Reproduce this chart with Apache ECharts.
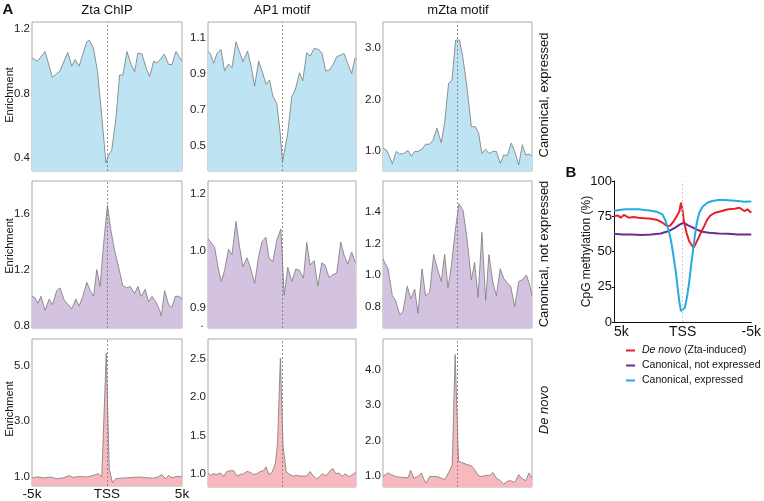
<!DOCTYPE html>
<html><head><meta charset="utf-8">
<script src="https://cdn.jsdelivr.net/npm/echarts@6/dist/echarts.min.js"></script>
<style>html,body{margin:0;padding:0;background:#fff}#c{width:764px;height:501px}</style>
</head><body><div id="c"></div>
<script>
// ---------- labels ----------
const colTitles = ['Zta ChIP', 'AP1 motif', 'mZta motif'];
const rowTitles = ['Canonical, expressed', 'Canonical, not expressed', 'De novo'];
const xTicks = [-5, 0, 5];
const xTickLabels = ['-5k', 'TSS', '5k'];

// ---------- panel A data: [position (kb), enrichment] ----------
const ztaExpressed = [[-5.0,1.02],[-4.64,1.00],[-4.13,1.06],[-3.64,0.90],[-3.40,0.92],[-3.13,0.94],[-2.62,1.055],[-2.35,0.97],[-2.13,1.01],[-1.86,0.97],[-1.35,1.12],[-1.17,1.13],[-0.90,1.08],[-0.63,0.935],[-0.35,0.66],[-0.07,0.37],[0.10,0.42],[0.32,0.45],[0.61,0.66],[0.84,0.915],[1.06,0.915],[1.33,1.06],[1.61,0.98],[1.84,0.935],[2.06,1.05],[2.33,1.045],[2.62,0.955],[2.84,0.905],[3.11,1.00],[3.33,0.99],[3.55,1.01],[3.82,1.045],[4.11,0.98],[4.33,0.98],[4.60,1.06],[5.0,1.00]];
const ap1Expressed = [[-5.0,1.022],[-4.84,1.013],[-4.62,0.958],[-4.39,1.013],[-4.12,1.035],[-3.88,0.917],[-3.61,0.954],[-3.38,0.934],[-3.11,1.078],[-2.87,1.022],[-2.64,0.967],[-2.33,1.026],[-2.08,0.94],[-1.85,0.832],[-1.58,0.971],[-1.31,0.906],[-1.07,0.842],[-0.84,0.866],[-0.62,0.777],[-0.35,0.736],[-0.12,0.57],[0.03,0.413],[0.37,0.561],[0.66,0.773],[0.89,0.81],[1.18,0.906],[1.40,0.862],[1.67,1.017],[1.90,0.998],[2.17,1.041],[2.46,1.035],[2.69,1.017],[2.96,0.915],[3.20,0.921],[3.47,0.954],[3.70,0.995],[3.97,1.004],[4.19,1.013],[4.48,0.949],[4.71,0.902],[4.93,0.986],[5.0,0.98]];
const mztaExpressed = [[-5.0,1.05],[-4.78,1.02],[-4.60,0.92],[-4.37,0.75],[-4.11,0.99],[-3.88,0.94],[-3.61,0.95],[-3.32,1.01],[-3.10,0.90],[-2.87,0.99],[-2.65,0.99],[-2.36,1.04],[-2.14,1.13],[-1.87,1.13],[-1.64,1.21],[-1.38,1.44],[-1.09,1.16],[-0.86,1.55],[-0.60,2.31],[-0.37,2.37],[-0.13,3.15],[0.13,3.15],[0.35,2.83],[0.64,2.23],[0.93,1.47],[1.20,1.47],[1.42,1.34],[1.64,0.95],[1.87,1.03],[2.11,0.95],[2.38,0.99],[2.61,0.99],[2.87,0.76],[3.10,0.92],[3.34,0.91],[3.61,1.15],[3.84,0.99],[4.11,0.73],[4.35,1.12],[4.58,0.92],[4.80,0.94],[5.0,0.90]];
const ztaNotExpressed = [[-5.0,1.01],[-4.80,1.00],[-4.62,0.96],[-4.40,1.01],[-4.13,0.91],[-3.86,0.99],[-3.64,0.95],[-3.35,1.05],[-3.13,1.07],[-2.84,0.98],[-2.57,0.95],[-2.35,0.92],[-2.08,0.99],[-1.86,0.94],[-1.61,1.01],[-1.35,1.11],[-1.12,1.05],[-0.90,1.01],[-0.68,1.20],[-0.46,1.08],[-0.23,1.38],[0.03,1.66],[0.26,1.48],[0.48,1.35],[0.77,1.22],[1.04,1.09],[1.28,1.07],[1.55,1.08],[1.84,1.03],[2.06,1.08],[2.28,1.01],[2.55,1.06],[2.77,0.97],[3.00,1.01],[3.26,0.97],[3.51,0.91],[3.62,0.87],[3.84,1.05],[4.11,0.95],[4.33,0.93],[4.55,1.01],[4.82,1.01],[5.0,0.99]];
const ap1NotExpressed = [[-5.0,1.022],[-4.78,1.014],[-4.55,1.006],[-4.33,0.972],[-4.10,0.946],[-3.88,0.966],[-3.61,1.003],[-3.38,0.993],[-3.11,1.052],[-2.87,1.008],[-2.64,0.972],[-2.37,0.988],[-2.15,0.972],[-1.85,0.943],[-1.58,0.99],[-1.36,1.016],[-1.09,1.024],[-0.87,0.987],[-0.62,0.981],[-0.35,1.019],[-0.08,1.039],[0.15,0.922],[0.39,0.971],[0.66,0.946],[0.93,0.968],[1.18,0.966],[1.45,0.952],[1.67,1.015],[1.90,0.975],[2.17,0.983],[2.42,0.938],[2.69,0.979],[2.91,0.975],[3.18,0.953],[3.43,0.958],[3.70,0.961],[3.97,1.016],[4.19,0.993],[4.44,0.977],[4.71,0.998],[4.93,0.981],[5.0,0.979]];
const mztaNotExpressed = [[-5.0,1.10],[-4.89,1.11],[-4.66,1.04],[-4.37,0.87],[-4.15,0.84],[-3.88,0.75],[-3.66,0.77],[-3.37,0.93],[-3.14,0.85],[-2.87,0.91],[-2.65,0.76],[-2.38,1.04],[-2.14,0.87],[-1.87,0.89],[-1.60,1.13],[-1.35,1.04],[-1.09,0.96],[-0.86,1.13],[-0.64,0.92],[-0.41,1.06],[-0.15,1.28],[0.10,1.45],[0.37,1.41],[0.64,1.23],[0.93,0.97],[1.15,1.08],[1.38,0.86],[1.64,1.27],[1.89,0.84],[2.11,1.13],[2.38,0.95],[2.61,0.87],[2.87,1.04],[3.10,0.98],[3.34,0.95],[3.57,0.93],[3.84,0.80],[4.11,0.96],[4.35,0.97],[4.62,1.00],[4.84,0.94],[5.0,0.87]];
const ztaDeNovo = [[-5.0,0.95],[-4.69,1.00],[-4.24,0.96],[-3.80,0.99],[-3.35,0.93],[-2.91,0.96],[-2.57,1.04],[-2.24,0.98],[-1.79,1.01],[-1.35,0.99],[-0.90,1.05],[-0.57,1.11],[-0.35,0.99],[-0.05,5.44],[0.15,1.28],[0.36,0.79],[0.59,0.93],[0.92,0.95],[1.37,0.96],[1.81,0.98],[2.22,0.99],[2.66,0.96],[3.11,0.95],[3.44,1.00],[3.66,1.08],[3.89,0.93],[4.11,1.05],[4.33,0.96],[4.67,1.02],[5.0,0.99]];
const ap1DeNovo = [[-5.0,1.01],[-4.84,0.98],[-4.62,1.00],[-4.39,0.99],[-4.17,1.01],[-3.94,0.97],[-3.72,1.03],[-3.49,1.04],[-3.27,1.04],[-3.04,0.97],[-2.82,0.99],[-2.60,1.00],[-2.37,1.03],[-2.15,1.02],[-1.92,0.99],[-1.70,1.00],[-1.47,1.03],[-1.25,1.04],[-1.07,1.09],[-0.89,0.99],[-0.66,1.02],[-0.44,1.14],[-0.30,1.40],[-0.11,2.51],[0.07,1.36],[0.28,1.03],[0.51,0.99],[0.78,0.97],[1.00,0.98],[1.22,0.97],[1.45,0.97],[1.67,0.97],[1.90,1.03],[2.12,0.97],[2.35,0.93],[2.57,0.97],[2.75,1.00],[2.96,0.97],[3.20,1.03],[3.43,1.07],[3.63,1.00],[3.85,1.01],[4.08,0.97],[4.30,1.00],[4.53,0.96],[4.78,0.99],[5.0,1.02]];
const mztaDeNovo = [[-5.0,0.98],[-4.89,1.00],[-4.66,1.08],[-4.44,1.03],[-4.15,0.98],[-3.88,0.96],[-3.61,0.95],[-3.32,0.94],[-3.14,1.15],[-2.92,0.93],[-2.65,0.98],[-2.43,1.08],[-2.27,0.91],[-2.09,0.79],[-1.87,0.98],[-1.60,0.98],[-1.38,0.98],[-1.09,0.93],[-0.86,0.89],[-0.60,1.08],[-0.35,1.31],[-0.16,4.44],[0.07,1.41],[0.27,1.38],[0.56,1.33],[0.93,1.28],[1.15,1.17],[1.42,1.00],[1.64,0.98],[1.94,1.01],[2.16,1.01],[2.38,1.09],[2.61,0.93],[2.87,0.86],[3.10,0.76],[3.32,0.84],[3.57,0.86],[3.84,0.81],[4.11,1.03],[4.35,0.91],[4.58,0.86],[4.80,1.08],[5.0,0.93]];

// y ranges and ticks per panel (row-major)
const panelData = [ztaExpressed, ap1Expressed, mztaExpressed, ztaNotExpressed, ap1NotExpressed, mztaNotExpressed, ztaDeNovo, ap1DeNovo, mztaDeNovo];
const yMins = [0.32, 0.362, 0.61, 0.784, 0.864, 0.666, 0.667, 0.827, 0.68];
const yMaxs = [1.243, 1.187, 3.50, 1.832, 1.1235, 1.594, 5.95, 2.76, 4.88];
const yTickValues = [[0.4,0.8,1.2],[0.5,0.7,0.9,1.1],[1,2,3],[0.8,1.2,1.6],[0.9,1.0,1.1],[0.8,1.0,1.2,1.4],[1,3,5],[1,1.5,2,2.5],[1,2,3,4]];
const yTickLabels = [['0.4','0.8','1.2'],['0.5','0.7','0.9','1.1'],['1.0','2.0','3.0'],['0.8','1.2','1.6'],['0.9','1.0','1.2'],['0.8','1.0','1.2','1.4'],['1.0','3.0','5.0'],['1.0','1.5','2.0','2.5'],['1.0','2.0','3.0','4.0']];

// ---------- panel B data: [position (kb), CpG methylation %] ----------
const bNames = ['De novo (Zta-induced)', 'Canonical, not expressed', 'Canonical, expressed'];
const methDeNovo = [[5.0,75.1],[4.74,75.6],[4.51,74.0],[4.28,75.9],[3.93,74.0],[3.57,74.4],[3.22,74.0],[2.76,73.5],[2.29,73.2],[1.82,72.3],[1.47,70.4],[1.12,68.0],[0.89,68.5],[0.65,71.6],[0.42,75.1],[0.23,78.7],[0.12,84.6],[0.02,79.9],[-0.09,71.6],[-0.28,63.3],[-0.47,57.4],[-0.63,55.0],[-0.79,52.7],[-0.93,55.0],[-1.10,58.6],[-1.33,63.3],[-1.57,68.0],[-1.80,72.8],[-2.03,75.6],[-2.38,77.5],[-2.85,78.7],[-3.32,79.9],[-3.79,80.3],[-4.14,81.0],[-4.49,78.7],[-4.72,79.9],[-5.0,77.5]];
const methNotExpressed = [[5.0,62.6],[4.39,62.1],[3.69,62.1],[2.99,61.7],[2.29,62.1],[1.59,62.8],[1.0,64.5],[0.54,66.9],[0.19,69.2],[-0.09,70.4],[-0.40,68.5],[-0.75,66.9],[-1.10,65.2],[-1.45,64.0],[-1.92,63.3],[-2.62,62.8],[-3.32,62.6],[-4.02,62.1],[-5.0,62.1]];
const methExpressed = [[5.0,78.7],[4.63,79.4],[4.16,79.9],[3.69,79.9],[3.22,79.9],[2.76,79.4],[2.29,78.9],[1.82,78.0],[1.47,76.3],[1.24,71.6],[1.0,64.5],[0.82,56.2],[0.65,45.6],[0.49,35.0],[0.35,23.1],[0.23,13.7],[0.12,7.8],[0.0,7.8],[-0.16,10.1],[-0.33,18.4],[-0.47,27.8],[-0.61,39.7],[-0.75,50.3],[-0.89,61.0],[-1.03,70.4],[-1.21,77.5],[-1.45,81.8],[-1.80,84.6],[-2.15,85.8],[-2.62,86.5],[-3.08,86.5],[-3.55,86.2],[-4.02,85.8],[-4.49,85.3],[-5.0,85.5]];

// ---------- build ----------
const FONT = 'Liberation Sans, Arial, sans-serif';
const fills = ['#bee3f3', '#d3c3e0', '#f8b9be'];
const gridLefts = [32, 208, 383], gridWidths = [150, 148, 149];
const gridTops = [22, 181, 339], gridHeights = [149, 147, 148];

const grids = [], xAxes = [], yAxes = [], series = [];
for (let r = 0; r < 3; r++) {
  for (let c = 0; c < 3; c++) {
    const i = r * 3 + c;
    grids.push({left: gridLefts[c], top: gridTops[r], width: gridWidths[c], height: gridHeights[r],
      show: true, borderColor: '#a9a9a9', borderWidth: 1, backgroundColor: 'transparent'});
    const showX = (r === 2 && c === 0);
    xAxes.push({type: 'value', gridIndex: i, min: -5, max: 5, interval: 5,
      axisLine: {show: false}, axisTick: {show: false}, splitLine: {show: false},
      axisLabel: {show: showX, margin: 1, fontSize: 13.5, color: '#111', fontFamily: FONT,
        formatter: v => xTickLabels[xTicks.indexOf(v)] || ''}});
    const tv = yTickValues[i], tl = yTickLabels[i];
    yAxes.push({type: 'value', gridIndex: i, min: yMins[i], max: yMaxs[i],
      axisLine: {show: false}, axisTick: {show: false}, splitLine: {show: false},
      axisLabel: {show: true, margin: 2, fontSize: 11.5, color: '#222', fontFamily: FONT,
        customValues: tv,
        formatter: v => { let k = tv.findIndex(t => Math.abs(t - v) < 1e-6); return k >= 0 ? tl[k] : ''; }}});
    series.push({type: 'line', name: 'p' + i, xAxisIndex: i, yAxisIndex: i, data: panelData[i],
      showSymbol: false, symbol: 'none', animation: false,
      lineStyle: {color: '#787878', width: 0.8},
      areaStyle: {color: fills[r], opacity: 1, origin: 'start'},
      markLine: {silent: true, symbol: 'none', animation: false, label: {show: false},
        lineStyle: {color: '#777', type: [2, 2], width: 0.8},
        data: [{xAxis: 0}]}});
  }
}
// Panel B
grids.push({left: 614, top: 181, width: 142, height: 141, show: false});
xAxes.push({type: 'value', gridIndex: 9, min: -5, max: 5, interval: 5, inverse: true,
  axisLine: {show: true, onZero: false, lineStyle: {color: '#111', width: 1}}, axisTick: {show: false}, splitLine: {show: false},
  axisLabel: {margin: 3, fontSize: 14, color: '#111', fontFamily: FONT, alignMaxLabel: 'left',
    formatter: v => xTickLabels[xTicks.indexOf(v)] || ''}});
yAxes.push({type: 'value', gridIndex: 9, min: 0, max: 100, interval: 25,
  name: 'CpG methylation (%)', nameLocation: 'middle', nameGap: 21, nameMoveOverlap: false,
  nameTextStyle: {fontSize: 12, color: '#111', fontFamily: FONT},
  axisLine: {show: true, onZero: false, lineStyle: {color: '#111', width: 1}},
  axisTick: {show: true, length: 2, lineStyle: {color: '#111'}}, splitLine: {show: false},
  axisLabel: {margin: 2, fontSize: 13, color: '#111', fontFamily: FONT}});
const bColors = {'De novo (Zta-induced)': '#e8202a', 'Canonical, not expressed': '#6b2d90', 'Canonical, expressed': '#27a9e1'};
const bData = {'De novo (Zta-induced)': methDeNovo, 'Canonical, not expressed': methNotExpressed, 'Canonical, expressed': methExpressed};
// TSS guide for panel B (dotted, light grey), drawn underneath the curves
series.push({type: 'line', name: 'tssB', xAxisIndex: 9, yAxisIndex: 9, data: [], silent: true,
  markLine: {silent: true, symbol: 'none', animation: false, label: {show: false},
    lineStyle: {color: '#c4c4c4', type: [2, 2], width: 0.8, opacity: 1}, emphasis: {disabled: true},
    data: [{xAxis: 0}]}});
['Canonical, not expressed', 'De novo (Zta-induced)', 'Canonical, expressed'].forEach(n => {
  series.push({type: 'line', name: n, xAxisIndex: 9, yAxisIndex: 9, data: bData[n],
    showSymbol: false, symbol: 'none', animation: false, itemStyle: {color: bColors[n]},
    lineStyle: {color: bColors[n], width: 2}});
});

// text graphics
const g = [];
const T = (text, x, y, font, extra) => g.push(Object.assign({type: 'text', x: x, y: y, silent: true,
  style: {text: text, font: font, fill: '#111', textAlign: 'center', textVerticalAlign: 'middle'}}, extra || {}));
T('A', 8, 10, 'bold 15px ' + FONT);
T('B', 571, 173, 'bold 15px ' + FONT);
const titleX = [107, 282, 458];
colTitles.forEach((t, c) => T(t, titleX[c], 10, '13px ' + FONT));
const enrichY = [95, 246, 409];
enrichY.forEach(y => T('Enrichment', 10, y, '11px ' + FONT, {rotation: Math.PI / 2}));
const rowY = [95, 254, 410];
rowTitles.forEach((t, r) => T(t, 544, rowY[r], (r === 2 ? 'italic ' : '') + '13px ' + FONT, {rotation: Math.PI / 2}));
T('.', 202, 324, '11px ' + FONT);

const chart = echarts.init(document.getElementById('c'), null, {renderer: 'canvas'});
chart.setOption({
  animation: false,
  backgroundColor: '#fff',
  grid: grids, xAxis: xAxes, yAxis: yAxes, series: series,
  legend: {data: bNames, orient: 'vertical', left: 621, top: 340, itemWidth: 9, itemHeight: 2, itemGap: 4,
    icon: 'rect',
    textStyle: {fontSize: 10.5, color: '#111', fontFamily: FONT, padding: [0, 0, 0, 2],
      rich: {i: {fontStyle: 'italic', fontSize: 10.5, fontFamily: FONT, color: '#111'}}},
    formatter: n => n === bNames[0] ? '{i|De novo} (Zta-induced)' : n},
  graphic: g
});
</script></body></html>
